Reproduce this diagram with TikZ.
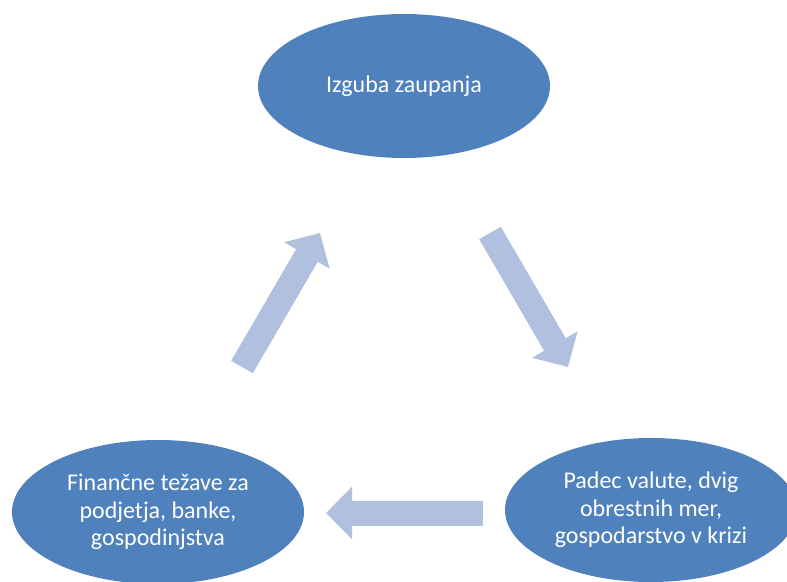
\documentclass[tikz,border=0pt]{standalone}
\usepackage{fontspec}
\setmainfont{Carlito}
\usetikzlibrary{shapes.geometric,arrows.meta}
\definecolor{ellblue}{RGB}{79,129,189}
\definecolor{arrblue}{RGB}{176,192,222}
\tikzset{
  cyc/.style={ellipse, fill=ellblue, draw=none, inner sep=0pt,
    minimum width=292pt, minimum height=144pt, text=white, align=center,
    font=\fontsize{24}{27.5}\selectfont},
  blockarrow/.style={draw=arrblue, line width=25pt, line cap=butt,
    -{Triangle[length=26pt, width=51pt, fill=arrblue]}}
}
\begin{document}
\begin{tikzpicture}[x=1pt, y=-1pt]
\useasboundingbox (0,0) rectangle (787,581);
\node[cyc] (top) at (404,86) {Izguba zaupanja};
\node[cyc] (right) at (651,510) {Padec valute, dvig\\obrestnih mer,\\gospodarstvo v krizi};
\node[cyc] (left) at (158,512) {Finančne težave za\\podjetja, banke,\\gospodinjstva};
\coordinate (a1s) at (242,367);
\coordinate (a1e) at (320,233);
\coordinate (a2s) at (490,233);
\coordinate (a2e) at (568,367);
\coordinate (a3s) at (483,513);
\coordinate (a3e) at (326,513);
\draw[blockarrow] (a1s) -- (a1e);
\draw[blockarrow] (a2s) -- (a2e);
\draw[blockarrow] (a3s) -- (a3e);
\end{tikzpicture}
\end{document}
